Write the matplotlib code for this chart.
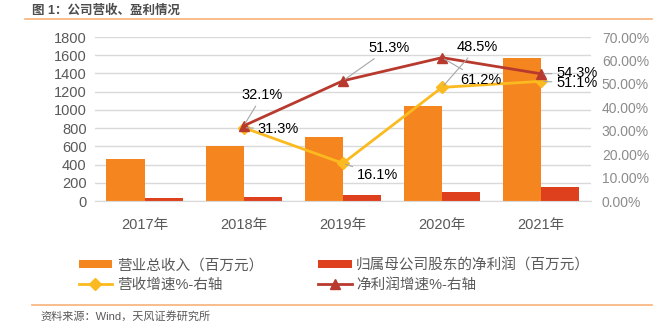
import matplotlib
matplotlib.use("Agg")
import matplotlib.pyplot as plt
import numpy as np

plt.rcParams['font.family'] = ['Liberation Sans', 'Noto Sans CJK SC', 'DejaVu Sans']

years = ['2017年', '2018年', '2019年', '2020年', '2021年']
revenue = [460, 604, 701, 1041, 1573]          # 营业总收入（百万元）
net_profit = [30, 40, 61, 98, 151]             # 归母净利润（百万元）
rev_growth = [np.nan, 31.3, 16.1, 48.5, 51.1]  # %
np_growth = [np.nan, 32.1, 51.3, 61.2, 54.3]   # %

# label text, label position (category, %) for each growth point
rev_labels = ['31.3%', '16.1%', '48.5%', '51.1%']
rev_label_pos = [(1.14, 30.7), (2.14, 11.1), (3.15, 65.7), (4.15, 50.4)]
np_labels = ['32.1%', '51.3%', '61.2%', '54.3%']
np_label_pos = [(0.98, 45.2), (2.26, 65.3), (3.18, 51.6), (4.15, 54.6)]

c_rev = '#F5851F'
c_np = '#DE3F1C'
c_rev_line = '#FBBA1F'
c_np_line = '#B83A2E'
c_text = '#595959'

fig = plt.figure(figsize=(6.69, 3.29), dpi=100)
ax = fig.add_axes([0.142, 0.389, 0.741, 0.4985])
ax2 = ax.twinx()

x = np.arange(len(years))
w = 0.385
ax.bar(x - w / 2, revenue, w, color=c_rev, label='营业总收入（百万元）', zorder=2)
ax.bar(x + w / 2, net_profit, w, color=c_np, label='归属母公司股东的净利润（百万元）', zorder=2)
ax.set_xlim(-0.5, 4.5)
ax.set_ylim(0, 1800)
ax.set_yticks(range(0, 1801, 200))
ax.set_xticks(x)
ax.set_xticklabels(years)
ax.grid(axis='y', color='#D9D9D9', lw=1, zorder=0)
ax.set_axisbelow(True)
for s in ['top', 'right', 'left']:
    ax.spines[s].set_visible(False)
ax.spines['bottom'].set_color('#D9D9D9')
ax.tick_params(axis='both', length=0, labelsize=10.5, colors=c_text, pad=6)
ax.tick_params(axis='x', pad=12)

ax2.plot(x, rev_growth, color=c_rev_line, lw=2, marker='D', ms=6, label='营收增速%-右轴', zorder=3)
ax2.plot(x, np_growth, color=c_np_line, lw=2, marker='^', ms=7, label='净利润增速%-右轴', zorder=4)
ax2.set_ylim(0, 70)
ax2.set_yticks(range(0, 71, 10))
ax2.set_yticklabels([f'{v:.2f}%' for v in range(0, 71, 10)])
for s in ['top', 'right', 'left', 'bottom']:
    ax2.spines[s].set_visible(False)
ax2.tick_params(axis='y', length=0, labelsize=10, colors='#8C8C8C', pad=8)

lead = dict(arrowstyle='-', color='#A6A6A6', lw=0.8, shrinkA=1, shrinkB=2)
for i, (t, pos) in enumerate(zip(rev_labels, rev_label_pos)):
    ax2.annotate(t, xy=(i + 1, rev_growth[i + 1]), xytext=pos, ha='left', va='center',
                 fontsize=10.5, color='black', arrowprops=lead, zorder=5)
for i, (t, pos) in enumerate(zip(np_labels, np_label_pos)):
    ax2.annotate(t, xy=(i + 1, np_growth[i + 1]), xytext=pos, ha='left', va='center',
                 fontsize=10.5, color='black', arrowprops=lead, zorder=5)

h1, l1 = ax.get_legend_handles_labels()
h2, l2 = ax2.get_legend_handles_labels()
handles = [h1[0], h2[0], h1[1], h2[1]]
labels = [l1[0], l2[0], l1[1], l2[1]]
fig.legend(handles, labels, ncol=2, loc='upper left', bbox_to_anchor=(0.098, 0.255),
           frameon=False, fontsize=10.5, labelcolor=c_text, handlelength=2.3,
           handleheight=0.5, handletextpad=0.3, columnspacing=3.8, labelspacing=0.35)

fig.text(0.048, 0.968, '图 1：公司营收、盈利情况', fontsize=9, fontweight='bold',
         color='#4D4D4D', va='center')
fig.add_artist(plt.Line2D([0.037, 0.975], [0.942, 0.942], color='#F7B27A', lw=1.2))
fig.add_artist(plt.Line2D([0.048, 0.975], [0.073, 0.073], color='#F7B27A', lw=1.2))
fig.text(0.06, 0.038, '资料来源：Wind，天风证券研究所', fontsize=8, color=c_text, va='center')

fig.savefig('out.png', dpi=100)
